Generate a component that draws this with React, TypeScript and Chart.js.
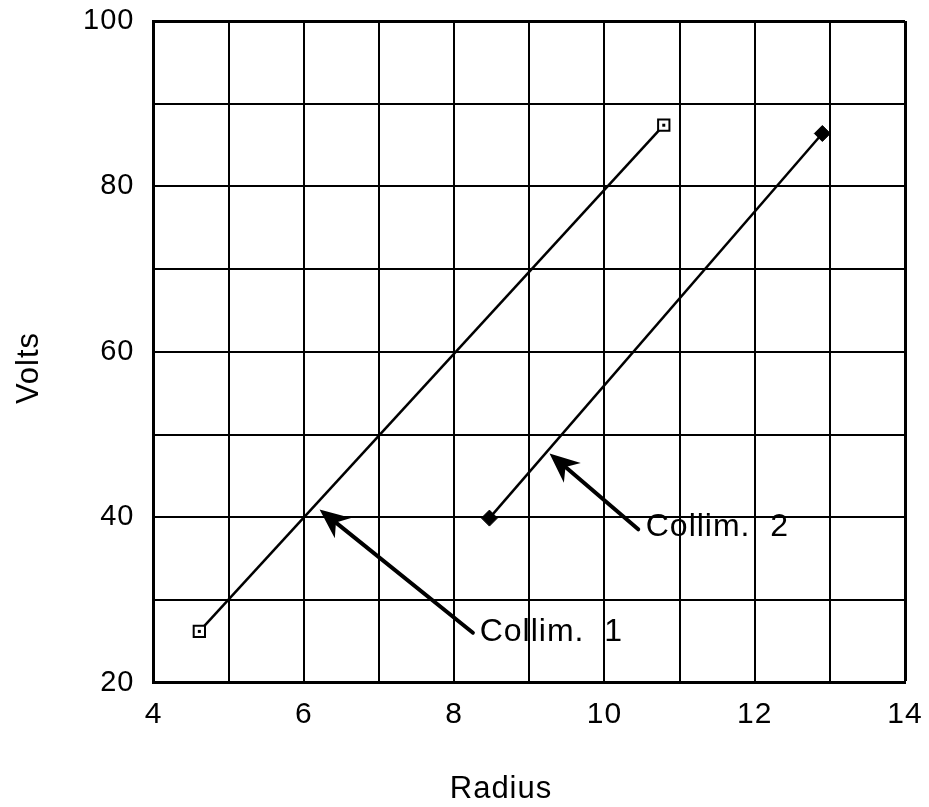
import React, { useEffect, useRef } from "react";
import { Chart, registerables } from "chart.js";

Chart.register(...registerables);

// ---- data ----
const series1X = [4.61, 10.79];
const series1Y = [26.2, 87.4];
const series2X = [8.47, 12.9];
const series2Y = [39.9, 86.4];

const xMin = 4;
const xMax = 14;
const yMin = 20;
const yMax = 100;
const xLabelStep = 2;
const yLabelStep = 20;

const xTitle = "Radius";
const yTitle = "Volts";

const annotationText = ["Collim.  1", "Collim.  2"];
const annotationTextX = [8.34, 10.55];
const annotationTextY = [26.13, 38.8];
const arrowTailX = [8.25, 10.45];
const arrowTailY = [26.04, 38.54];
const arrowTipX = [6.21, 9.27];
const arrowTipY = [40.95, 47.72];

const FONT = "'Liberation Sans', Arial, Helvetica, sans-serif";

const annotatePlugin = {
  id: "annotate",
  beforeDraw(chart: any) {
    chart.ctx.letterSpacing = "1px";
  },
  afterDatasetsDraw(chart: any) {
    const { ctx, scales } = chart;
    const x = scales.x;
    const y = scales.y;
    ctx.save();
    ctx.letterSpacing = "1px";
    ctx.strokeStyle = "#000";
    ctx.fillStyle = "#000";
    // centre dot of the hollow square markers
    const meta = chart.getDatasetMeta(0);
    meta.data.forEach((pt: any) => {
      ctx.fillRect(pt.x - 1.5, pt.y - 1.5, 3, 3);
    });
    for (let i = 0; i < arrowTailX.length; i++) {
      const tx = x.getPixelForValue(arrowTailX[i]);
      const ty = y.getPixelForValue(arrowTailY[i]);
      const px = x.getPixelForValue(arrowTipX[i]);
      const py = y.getPixelForValue(arrowTipY[i]);
      const ang = Math.atan2(py - ty, px - tx);
      const c = Math.cos(ang);
      const s = Math.sin(ang);
      const headLen = 30;
      const headW = 13;
      const notch = 21;
      ctx.lineWidth = 4;
      ctx.lineCap = "round";
      ctx.beginPath();
      ctx.moveTo(tx, ty);
      ctx.lineTo(px - notch * c, py - notch * s);
      ctx.stroke();
      const bx = px - headLen * c;
      const by = py - headLen * s;
      ctx.beginPath();
      ctx.moveTo(px, py);
      ctx.lineTo(bx - headW * s, by + headW * c);
      ctx.lineTo(px - notch * c, py - notch * s);
      ctx.lineTo(bx + headW * s, by - headW * c);
      ctx.closePath();
      ctx.fill();
    }
    ctx.font = `32px ${FONT}`;
    ctx.textAlign = "left";
    ctx.textBaseline = "middle";
    for (let i = 0; i < annotationText.length; i++) {
      ctx.fillText(
        annotationText[i],
        x.getPixelForValue(annotationTextX[i]),
        y.getPixelForValue(annotationTextY[i])
      );
    }
    // axis titles
    ctx.font = `31px ${FONT}`;
    ctx.textAlign = "center";
    ctx.textBaseline = "middle";
    ctx.fillText(xTitle, 501, 789);
    ctx.save();
    ctx.translate(29, 368);
    ctx.rotate(-Math.PI / 2);
    ctx.fillText(yTitle, 0, 0);
    ctx.restore();
    ctx.restore();
  },
};

export default function App() {
  const ref = useRef<HTMLCanvasElement | null>(null);

  useEffect(() => {
    if (!ref.current) return;
    const chart = new Chart(ref.current, {
      type: "line",
      data: {
        datasets: [
          {
            label: "Collim. 1",
            data: series1X.map((v, i) => ({ x: v, y: series1Y[i] })),
            borderColor: "#000",
            borderWidth: 2.5,
            backgroundColor: "#fff",
            pointStyle: "rect",
            pointRadius: 8,
            pointBorderWidth: 2,
            pointBorderColor: "#000",
            pointBackgroundColor: "#fff",
            tension: 0,
            fill: false,
          },
          {
            label: "Collim. 2",
            data: series2X.map((v, i) => ({ x: v, y: series2Y[i] })),
            borderColor: "#000",
            borderWidth: 2.5,
            backgroundColor: "#000",
            pointStyle: "rectRot",
            pointRadius: 8,
            pointBorderWidth: 1,
            pointBorderColor: "#000",
            pointBackgroundColor: "#000",
            tension: 0,
            fill: false,
          },
        ],
      },
      options: {
        responsive: false,
        animation: false,
        layout: { padding: { left: 0, right: 24, top: 21, bottom: 0 } },
        plugins: {
          legend: { display: false },
          tooltip: { enabled: false },
          title: { display: false },
        },
        scales: {
          x: {
            type: "linear",
            min: xMin,
            max: xMax,
            grid: {
              color: "#000",
              lineWidth: (c: any) => (c.tick && c.tick.value === xMax ? 3 : 2),
              drawTicks: false,
            },
            border: { display: true, color: "#000", width: 3 },
            ticks: {
              stepSize: 1,
              autoSkip: false,
              maxRotation: 0,
              padding: 14,
              color: "#000",
              font: { size: 30, family: FONT },
              callback: (v: any) => (Number(v) % xLabelStep === 0 ? String(v) : ""),
            },
            afterFit: (s: any) => {
              s.height = 124.3;
              s.paddingLeft = 0;
              s.paddingRight = 0;
            },
          },
          y: {
            type: "linear",
            min: yMin,
            max: yMax,
            grid: {
              color: "#000",
              lineWidth: (c: any) => (c.tick && c.tick.value === yMax ? 3 : 2),
              drawTicks: false,
            },
            border: { display: true, color: "#000", width: 3 },
            ticks: {
              stepSize: 10,
              autoSkip: false,
              padding: 19,
              color: "#000",
              font: { size: 29, family: FONT },
              callback: (v: any) => (Number(v) % yLabelStep === 0 ? String(v) : ""),
            },
            afterFit: (s: any) => {
              s.width = 153.5;
              s.paddingTop = 0;
              s.paddingBottom = 0;
            },
          },
        },
      },
      plugins: [annotatePlugin],
    });
    return () => chart.destroy();
  }, []);

  return (
    <div style={{ position: "absolute", left: 0, top: 0, width: 929, height: 807, background: "#fff" }}>
      <canvas ref={ref} width={929} height={807} style={{ display: "block" }} />
    </div>
  );
}
